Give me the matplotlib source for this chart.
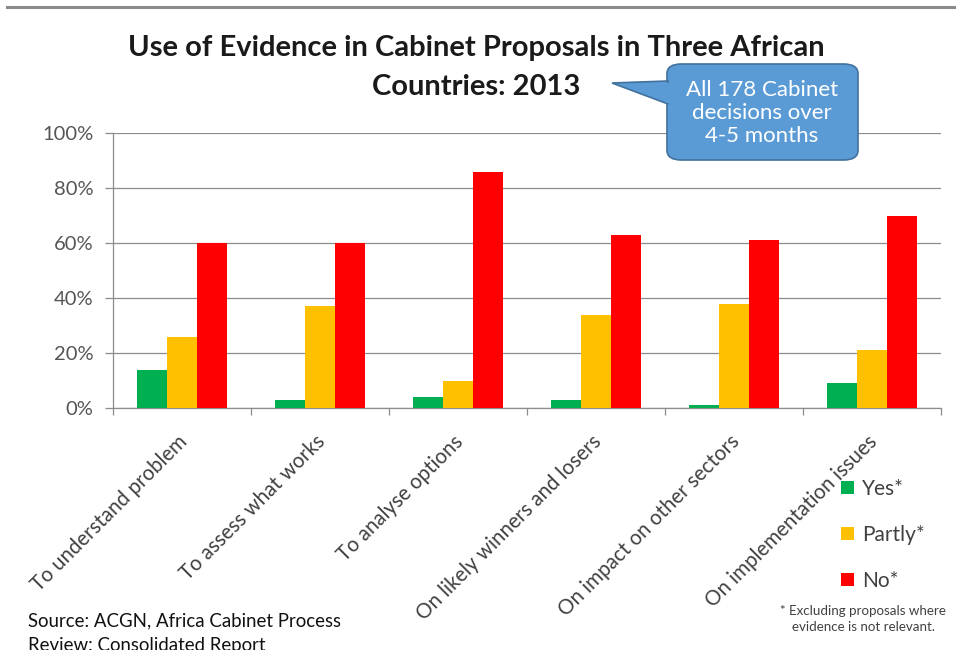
import numpy as np
import matplotlib
matplotlib.use("Agg")
import matplotlib.pyplot as plt
from matplotlib.patches import FancyBboxPatch, Polygon, Patch
from matplotlib.lines import Line2D
from matplotlib.transforms import ScaledTranslation
from matplotlib.ticker import PercentFormatter

plt.rcParams['font.family'] = ['Lato', 'DejaVu Sans']

# Data
categories = ["To understand problem", "To assess what works", "To analyse options",
              "On likely winners and losers", "On impact on other sectors",
              "On implementation issues"]
yes_vals = [14, 3, 4, 3, 1, 9]
partly_vals = [26, 37, 10, 34, 38, 21]
no_vals = [60, 60, 86, 63, 61, 70]
series_names = ["Yes*", "Partly*", "No*"]
colors = ["#00B050", "#FFC000", "#FF0000"]

W, H = 956, 650
fig = plt.figure(figsize=(W / 100, H / 100), dpi=100)
fig.patch.set_facecolor("white")

def fx(px):
    return px / W

def fy(py):
    return 1 - py / H

# plot area in pixels: x 113-941, y 133-408
ax = fig.add_axes([fx(113), fy(408), fx(941) - fx(113), fy(133) - fy(408)])

x = np.arange(len(categories))
w = 0.218
for i, (vals, c) in enumerate(zip([yes_vals, partly_vals, no_vals], colors)):
    ax.bar(x + (i - 1) * w, vals, width=w, color=c, zorder=3)

ax.set_xlim(-0.5, len(categories) - 0.5)
ax.set_ylim(0, 100)
ax.set_yticks(np.arange(0, 101, 20))
ax.yaxis.set_major_formatter(PercentFormatter(decimals=0))
ax.grid(axis="y", color="#8c8c8c", linewidth=0.9, zorder=0)

for s in ["top", "right"]:
    ax.spines[s].set_visible(False)
for s in ["left", "bottom"]:
    ax.spines[s].set_color("#8c8c8c")
    ax.spines[s].set_linewidth(0.9)

ax.tick_params(axis="y", colors="#8c8c8c", labelcolor="#555555", labelsize=14.5,
               length=6, width=0.9, pad=8)

# category labels at group centres, ticks at group boundaries
ax.set_xticks(x)
ax.set_xticklabels(categories, rotation=45, ha="right", va="center",
                   rotation_mode="anchor", fontsize=14.8, color="#404040")
ax.tick_params(axis="x", which="major", length=0, pad=22)
ax.set_xticks(np.arange(-0.5, len(categories), 1), minor=True)
ax.tick_params(axis="x", which="minor", length=5, width=0.9, colors="#8c8c8c")
for lab in ax.get_xticklabels():
    lab.set_transform(lab.get_transform() + ScaledTranslation(0.02, 0, fig.dpi_scale_trans))

# title
fig.text(fx(476), fy(48), "Use of Evidence in Cabinet Proposals in Three African",
         ha="center", va="center", fontsize=21, fontweight="bold", color="#1a1a1a")
fig.text(fx(476), fy(87), "Countries: 2013",
         ha="center", va="center", fontsize=21, fontweight="bold", color="#1a1a1a")

# top border line
fig.add_artist(Line2D([fx(7), 1], [fy(7), fy(7)], color="#8a8a8a", linewidth=2.2))

# callout
box = FancyBboxPatch((fx(667), fy(160)), fx(858) - fx(667), fy(64) - fy(160),
                     boxstyle="round,pad=0,rounding_size=0.015",
                     transform=fig.transFigure, facecolor="#5B9BD5",
                     edgecolor="#41719C", linewidth=1.2)
fig.add_artist(box)
wedge = Polygon([(fx(612), fy(83)), (fx(668), fy(81)), (fx(668), fy(104))],
                closed=True, transform=fig.transFigure, facecolor="#5B9BD5",
                edgecolor="#41719C", linewidth=1.2)
fig.add_artist(wedge)
# hide the box edge where the wedge joins
fig.add_artist(Polygon([(fx(666), fy(82.5)), (fx(669.5), fy(82.5)),
                        (fx(669.5), fy(102.5)), (fx(666), fy(102.5))],
                       closed=True, transform=fig.transFigure, facecolor="#5B9BD5",
                       edgecolor="none"))
fig.text(fx(762), fy(113), "All 178 Cabinet\ndecisions over\n4-5 months",
         ha="center", va="center", fontsize=16, color="white", linespacing=1.2)

# legend
handles = [Patch(facecolor=c, edgecolor="none") for c in colors]
fig.legend(handles, series_names, loc="upper left",
           bbox_to_anchor=(fx(841), fy(479)), frameon=False, fontsize=15,
           handlelength=0.6, handleheight=0.6, handletextpad=0.4,
           labelspacing=1.25, labelcolor="#404040", borderpad=0,
           borderaxespad=0)

fig.text(fx(863), fy(619), "* Excluding proposals where\nevidence is not relevant.",
         ha="center", va="center", fontsize=9.6, color="#404040", linespacing=1.4)

# source note
fig.text(fx(28), fy(621), "Source: ACGN, Africa Cabinet Process", ha="left",
         va="center", fontsize=13.4, color="#111111")
fig.text(fx(28), fy(646), "Review: Consolidated Report", ha="left",
         va="center", fontsize=13.4, color="#111111")

fig.savefig("out.png", dpi=100)
